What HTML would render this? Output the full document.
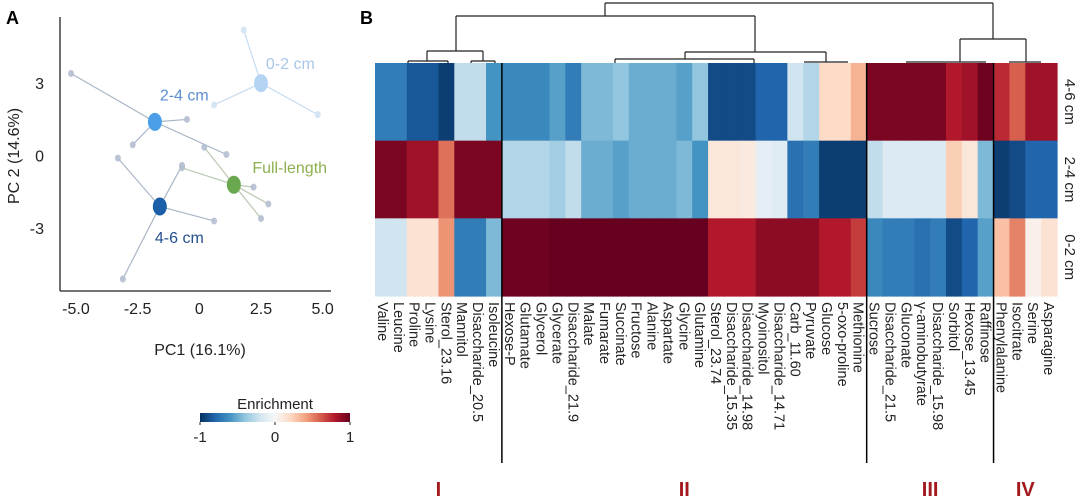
<!DOCTYPE html>
<html><head><meta charset="utf-8">
<style>
html,body{margin:0;padding:0;background:#fff;}
svg{display:block;font-family:"Liberation Sans",sans-serif;}
</style></head>
<body>
<svg id="fig" width="1080" height="498" viewBox="0 0 1080 498" xmlns="http://www.w3.org/2000/svg">
<text x="6" y="24" font-size="18" font-weight="bold">A</text>
<text x="360" y="24" font-size="18" font-weight="bold">B</text>
<g id="pca"></g>
<g id="heat"></g>
<g id="dendro"></g>
<g id="cbar"></g>
</svg>
<script>
const NS="http://www.w3.org/2000/svg";
function mk(tag,attrs,parent,text){const e=document.createElementNS(NS,tag);for(const k in attrs)e.setAttribute(k,attrs[k]);if(text!==undefined)e.textContent=text;parent.appendChild(e);return e;}

// ---------- PCA data ----------
const groupNames=["0-2 cm","2-4 cm","4-6 cm","Full-length"];
const centroidX=[2.5,-1.8,-1.6,1.4];
const centroidY=[3.0,1.4,-2.1,-1.2];
const groupColors=["#b5d3f3","#4a9fe8","#1a5fa8","#6aa84f"];
const labelColors=["#a9c7e8","#5b8fd0","#24508f","#8db04f"];
const labelPosX=[2.7,-1.6,-1.8,2.15];
const labelPosY=[3.8,2.5,-3.4,-0.5];
const sampleGroup=[0,0,0,1,1,1,1,2,2,2,2,3,3,3,3,3];
const sampleX=[1.8,0.6,4.8,-5.2,-0.5,-2.7,1.1,-3.3,-0.7,0.6,-3.1,0.2,-0.7,2.2,2.8,2.5];
const sampleY=[5.2,2.1,1.7,3.4,1.5,0.45,0.05,-0.1,-0.4,-2.7,-5.1,0.35,-0.5,-1.3,-2.0,-2.6];
const xTicks=[-5.0,-2.5,0,2.5,5.0];
const xTickLabels=["-5.0","-2.5","0","2.5","5.0"];
const yTicks=[3,0,-3];
const yTickLabels=["3","0","-3"];

const px=v=>199.3+24.67*v;
const py=v=>155.7-24.17*v;
const pca=document.getElementById('pca');
let e;
e=mk('line',{x1:60,y1:17,x2:60,y2:291,stroke:'#222','stroke-width':1.3},pca);


e=mk('line',{x1:60,y1:291,x2:331,y2:291,stroke:'#222','stroke-width':1.3},pca);


xTicks.forEach((t,i)=>{
  e=mk('text',{x:px(t),y:314,'font-size':16,'text-anchor':'middle',fill:'#222'},pca,xTickLabels[i]);
  
  
});
yTicks.forEach((t,i)=>{
  e=mk('text',{x:44,y:py(t)+6,'font-size':16,'text-anchor':'end',fill:'#222'},pca,yTickLabels[i]);
  
  
});
e=mk('text',{x:200,y:355,'font-size':16,'text-anchor':'middle',fill:'#222'},pca,'PC1 (16.1%)');


e=mk('text',{x:0,y:0,'font-size':16,'text-anchor':'middle',fill:'#222',transform:'translate(19,156) rotate(-90)'},pca,'PC 2 (14.6%)');


sampleX.forEach((sx,i)=>{
  const g=sampleGroup[i];
  e=mk('line',{x1:px(centroidX[g]),y1:py(centroidY[g]),x2:px(sx),y2:py(sampleY[i]),stroke:g==0?'#c8dcf0':(g==3?'#b9c8b0':'#a9b6c6'),'stroke-width':1.2},pca);
  
  
});
sampleX.forEach((sx,i)=>{
  const g=sampleGroup[i];
  e=mk('ellipse',{cx:px(sx),cy:py(sampleY[i]),rx:3,ry:3.5,fill:g==0?'#d3e3f4':'#b4bfd0',opacity:0.9},pca);
  
  
});
centroidX.forEach((cx,g)=>{
  e=mk('ellipse',{cx:px(cx),cy:py(centroidY[g]),rx:7,ry:9,fill:groupColors[g]},pca);
  
  
  e=mk('text',{x:px(labelPosX[g]),y:py(labelPosY[g])+5,'font-size':16,fill:labelColors[g]},pca,groupNames[g]);
  
  
});

// ---------- Heatmap data ----------
const metabolites=["Valine","Leucine","Proline","Lysine","Sterol_23.16","Mannitol","Disaccharide_20.5","Isoleucine",
"Hexose-P","Glutamate","Glycerol","Glycerate","Disaccharide_21.9","Malate","Fumarate","Succinate","Fructose","Alanine","Aspartate","Glycine","Glutamine","Sterol_23.74","Disaccharide_15.35","Disaccharide_14.98","Myoinositol","Disaccharide_14.71","Carb_11.60","Pyruvate","Glucose","5-oxo-proline","Methionine",
"Sucrose","Disaccharide_21.5","Gluconate","γ-aminobutyrate","Disaccharide_15.98","Sorbitol","Hexose_13.45","Raffinose",
"Phenylalanine","Isocitrate","Serine","Asparagine"];
const rowLabels=["4-6 cm","2-4 cm","0-2 cm"];
const row46=[-0.7,-0.7,-0.85,-0.85,-0.95,-0.25,-0.25,-0.6,
-0.65,-0.65,-0.65,-0.55,-0.7,-0.45,-0.45,-0.4,-0.5,-0.5,-0.5,-0.55,-0.4,-0.9,-0.9,-0.9,-0.8,-0.8,-0.2,-0.3,0.2,0.2,0.35,
0.95,0.95,0.95,0.95,0.95,0.8,0.85,0.98,
0.75,0.6,0.85,0.85];
const row24=[0.95,0.95,0.85,0.85,0.55,0.95,0.95,0.95,
-0.3,-0.3,-0.3,-0.35,-0.25,-0.5,-0.5,-0.55,-0.5,-0.5,-0.5,-0.45,-0.6,0.12,0.12,0.1,-0.1,-0.12,-0.75,-0.7,-0.95,-0.95,-0.95,
-0.25,-0.15,-0.15,-0.15,-0.15,0.25,0.12,-0.45,
-0.95,-0.9,-0.8,-0.8];
const row02=[-0.2,-0.2,0.15,0.15,0.45,-0.7,-0.7,-0.45,
0.98,0.98,0.98,1,1,1,1,1,1,1,1,1,1,0.8,0.8,0.8,0.9,0.9,0.9,0.9,0.8,0.8,0.7,
-0.65,-0.7,-0.7,-0.75,-0.7,-0.9,-0.8,-0.55,
0.3,0.5,0.05,0.15];
const rowsData=[row46,row24,row02];
const groupSizes=[8,23,8,4];
const groupLabels=["I","II","III","IV"];

const stops=[[-1,[5,48,97]],[-0.8,[33,102,172]],[-0.6,[67,147,195]],[-0.4,[146,197,222]],[-0.2,[209,229,240]],[0,[247,247,247]],[0.2,[253,219,199]],[0.4,[244,165,130]],[0.6,[214,96,77]],[0.8,[178,24,43]],[1,[103,0,31]]];
function col(v){v=Math.max(-1,Math.min(1,v));for(let i=0;i<stops.length-1;i++){const a=stops[i],b=stops[i+1];if(v<=b[0]){const t=(v-a[0])/(b[0]-a[0]);const c=a[1].map((x,k)=>Math.round(x+(b[1][k]-x)*t));return 'rgb('+c.join(',')+')';}}return 'rgb(103,0,31)';}

const hx0=375,hx1=1057,hy0=63,hy1=296;
const cw=(hx1-hx0)/metabolites.length, rh=(hy1-hy0)/rowLabels.length;
const cx=i=>hx0+i*cw, ry=r=>hy0+r*rh;
const heat=document.getElementById('heat');
rowsData.forEach((row,r)=>{
  row.forEach((v,i)=>{
    e=mk('rect',{x:cx(i),y:ry(r),width:cw+0.6,height:rh+0.6,fill:col(v)},heat);
    
    
  });
  e=mk('text',{x:0,y:0,'font-size':15,'text-anchor':'middle',fill:'#222',transform:`translate(${hx1+8},${ry(r)+rh/2}) rotate(90)`},heat,rowLabels[r]);
  
  
});
metabolites.forEach((m,i)=>{
  e=mk('text',{x:0,y:0,'font-size':14.5,fill:'#222',transform:`translate(${cx(i)+cw/2-5},${hy1+6}) rotate(90)`},heat,m);
  
  
});
let acc=0;
groupSizes.forEach((n,g)=>{
  const start=acc;acc+=n;
  if(g<groupSizes.length-1){
    e=mk('line',{x1:cx(acc),y1:hy0,x2:cx(acc),y2:463,stroke:'#000','stroke-width':1.5},heat);
    
    
  }
  e=mk('text',{x:(cx(start)+cx(acc))/2,y:496,'font-size':20,'font-weight':'bold','text-anchor':'middle',fill:'#a31a1e'},heat,groupLabels[g]);
  
  
});

// ---------- Dendrogram ----------
const den=document.getElementById('dendro');
const segs=[[605,3,993,3],[605,3,605,16],[993,3,993,39],
[456,16,755,16],[456,16,456,51],[755,16,755,52],
[427,51,483,51],[427,51,427,61],[483,51,483,61],[408,61,448,61],[408,61,408,63],[448,61,448,63],[471,61,495,61],[471,61,471,63],[495,61,495,63],
[685,52,826,52],[685,52,685,59],[826,52,826,62],[615,59,754,59],[615,59,615,63],[754,59,754,63],[804,62,848,62],
[960,39,1026,39],[960,39,960,62],[1026,39,1026,62],[906,62,986,62],[1009,62,1041,62]];
segs.forEach(s=>{
  e=mk('line',{x1:s[0],y1:s[1],x2:s[2],y2:s[3],stroke:'#222','stroke-width':1.2},den);
  
  
});

// ---------- Color legend ----------
const cbar=document.getElementById('cbar');
const defs=mk('defs',{},cbar);
const lg=mk('linearGradient',{id:'rdbu',x1:0,x2:1,y1:0,y2:0},defs);
stops.forEach(s=>mk('stop',{offset:((s[0]+1)/2*100)+'%','stop-color':'rgb('+s[1].join(',')+')'},lg));
e=mk('rect',{x:200,y:413,width:150,height:9,fill:'url(#rdbu)'},cbar);


e=mk('text',{x:275,y:409,'font-size':15,'text-anchor':'middle',fill:'#222'},cbar,'Enrichment');


[[-1,'-1'],[0,'0'],[1,'1']].forEach(t=>{
  const x=200+(t[0]+1)/2*150;
  mk('line',{x1:x,y1:422,x2:x,y2:425,stroke:'#222'},cbar);
  e=mk('text',{x:x,y:442,'font-size':15,'text-anchor':'middle',fill:'#222'},cbar,t[1]);
  
  
});
</script>
</body></html>
